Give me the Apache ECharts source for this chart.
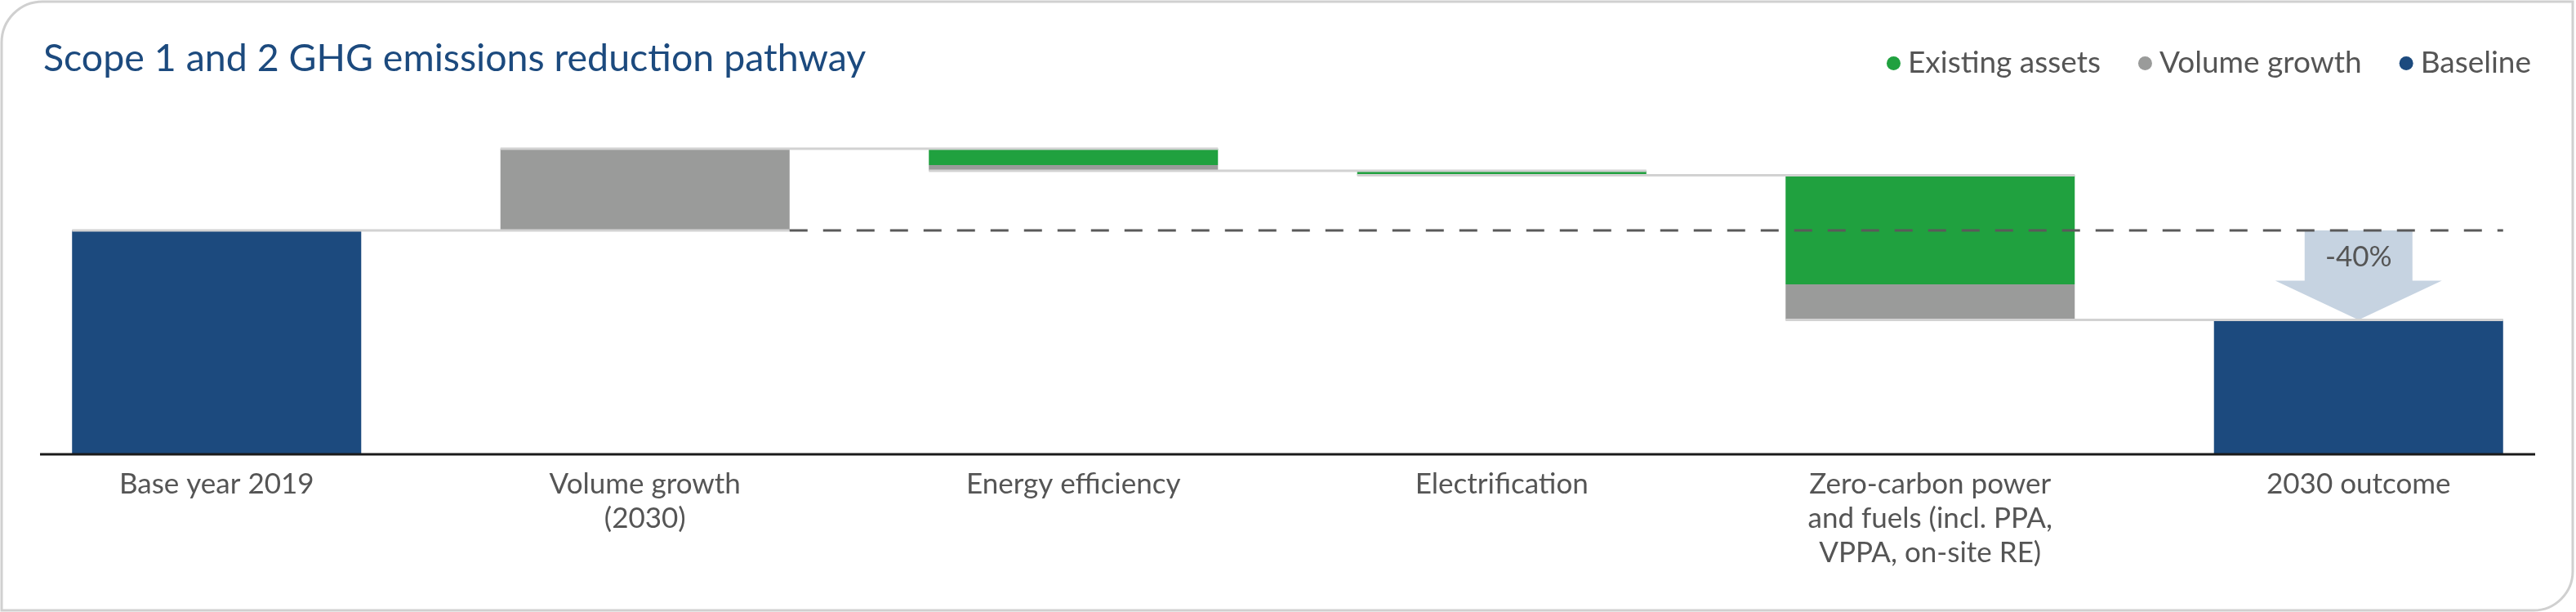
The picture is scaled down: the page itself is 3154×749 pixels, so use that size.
<!DOCTYPE html>
<html>
<head>
<meta charset="utf-8">
<script src="https://cdn.jsdelivr.net/npm/echarts@6/dist/echarts.min.js"></script>
<style>
    html, body { margin: 0; padding: 0; background: #fff; }
    #chart { width: 3154px; height: 749px; }
</style>
</head>
<body>
<div id="chart"></div>
<script>
// data
var categories = ['Base year 2019', 'Volume growth\n(2030)', 'Energy efficiency', 'Electrification',
    'Zero-carbon power\nand fuels (incl. PPA,\nVPPA, on-site RE)', '2030 outcome'];
var baseline = [100, null, null, null, null, 60];
var volumeGrowth = [null, 36.5, -2.6, 0, -15.9, null];
var existingAssets = [null, 0, -7.3, -2.0, -48.7, null];
var reductionLabel = '-40%';

var FONT = 'Lato, "Open Sans", sans-serif';
var NAVY = '#1c4a7e', GREEN = '#20a13f', GREY = '#9a9b9a';
var BAR_RATIO = 0.675;

// waterfall offsets built from the step values
var helper = [], greyBars = [], greenBars = [], levels = [];
var level = 0;
categories.forEach(function (c, i) {
    if (baseline[i] != null) {
        helper.push(0); greyBars.push('-'); greenBars.push('-');
        level = baseline[i];
    } else {
        var d = volumeGrowth[i] + existingAssets[i];
        var bottom = d >= 0 ? level : level + d;
        helper.push(bottom);
        greyBars.push(Math.abs(volumeGrowth[i]) || '-');
        greenBars.push(Math.abs(existingAssets[i]) || '-');
        level = level + d;
    }
    levels.push(level);
});
var connectors = [];
for (var i = 0; i < categories.length - 1; i++) {
    connectors.push([i, i + 1, levels[i]]);
}
var last = categories.length - 1;

var chart = echarts.init(document.getElementById('chart'));

var option = {
    animation: false,
    backgroundColor: '#fff',
    title: {
        text: 'Scope 1 and 2 GHG emissions reduction pathway',
        left: 48,
        top: 43,
        textStyle: { fontFamily: FONT, fontSize: 46.5, fontWeight: 'normal', color: NAVY }
    },
    legend: {
        data: ['Existing assets', 'Volume growth', 'Baseline'],
        right: 50,
        top: 54,
        icon: 'circle',
        itemWidth: 17,
        itemHeight: 17,
        itemGap: 46,
        textStyle: { fontFamily: FONT, fontSize: 37, color: '#555', padding: [0, 0, 0, 4] }
    },
    grid: { left: 3, right: 4, top: 145, bottom: 193 },
    xAxis: {
        type: 'category',
        data: categories,
        axisLine: { show: false },
        axisTick: { show: false },
        axisLabel: { interval: 0, fontFamily: FONT, fontSize: 35, lineHeight: 42, color: '#555', margin: 16 }
    },
    yAxis: { type: 'value', min: 0, max: 150, show: false, splitLine: { show: false } },
    series: [
        { name: 'helper', type: 'bar', stack: 'w', barWidth: (BAR_RATIO * 100) + '%', silent: true,
          itemStyle: { color: 'transparent' }, data: helper },
        { name: 'Baseline', type: 'bar', stack: 'w', itemStyle: { color: NAVY },
          data: baseline.map(function (v) { return v == null ? '-' : v; }) },
        { name: 'Volume growth', type: 'bar', stack: 'w', itemStyle: { color: GREY }, data: greyBars },
        { name: 'Existing assets', type: 'bar', stack: 'w', itemStyle: { color: GREEN }, data: greenBars },
        {
            // arrow showing the reduction
            type: 'custom', z: 3, silent: true,
            encode: { x: 0, y: 1 },
            data: [[last, baseline[0], baseline[last]]],
            renderItem: function (params, api) {
                var top = api.coord([api.value(0), api.value(1)]);
                var tip = api.coord([api.value(0), api.value(2)]);
                var cx = top[0], headH = 48, sw = 66, hw = 102;
                var hb = tip[1] - headH;
                return {
                    type: 'group',
                    children: [{
                        type: 'polygon',
                        shape: { points: [[cx - sw, top[1]], [cx + sw, top[1]], [cx + sw, hb], [cx + hw, hb],
                            [cx, tip[1]], [cx - hw, hb], [cx - sw, hb]] },
                        style: { fill: '#c6d3e1' }
                    }, {
                        type: 'text',
                        style: { text: reductionLabel, x: cx, y: (top[1] + hb) / 2 + 2, align: 'center',
                            verticalAlign: 'middle', fontFamily: FONT, fontSize: 35, fill: '#555' }
                    }]
                };
            }
        },
        {
            // light connectors between the steps
            type: 'custom', z: 4, silent: true,
            encode: { x: 0, y: 2 },
            data: connectors,
            renderItem: function (params, api) {
                var a = api.coord([api.value(0), api.value(2)]);
                var b = api.coord([api.value(1), api.value(2)]);
                var half = api.size([1, 0])[0] * BAR_RATIO / 2;
                return { type: 'line', shape: { x1: a[0] - half, y1: a[1], x2: b[0] + half, y2: b[1] },
                    style: { stroke: '#d2d2d2', lineWidth: 3 } };
            }
        },
        {
            // dashed baseline reference
            type: 'custom', z: 5, silent: true,
            encode: { x: 0, y: 2 },
            data: [[1, last, baseline[0]]],
            renderItem: function (params, api) {
                var a = api.coord([api.value(0), api.value(2)]);
                var b = api.coord([api.value(1), api.value(2)]);
                var half = api.size([1, 0])[0] * BAR_RATIO / 2;
                return { type: 'line', shape: { x1: a[0] + half, y1: a[1], x2: b[0] + half, y2: b[1] },
                    style: { stroke: '#5a5a5a', lineWidth: 3, lineDash: [22, 19] } };
            }
        }
    ]
};
chart.setOption(option);

// frame and x axis line
var y0 = chart.convertToPixel({ yAxisIndex: 0 }, 0);
chart.setOption({
    graphic: [
        { type: 'rect', z: -1, silent: true, shape: { x: 2, y: 2, width: 3148, height: 745, r: [50, 0, 48, 0] },
          style: { fill: 'none', stroke: '#d0d0d0', lineWidth: 3 } },
        { type: 'line', z: 10, silent: true, shape: { x1: 49, y1: y0, x2: 3104, y2: y0 },
          style: { stroke: '#1a1a1a', lineWidth: 3 } }
    ]
});
</script>
</body>
</html>
